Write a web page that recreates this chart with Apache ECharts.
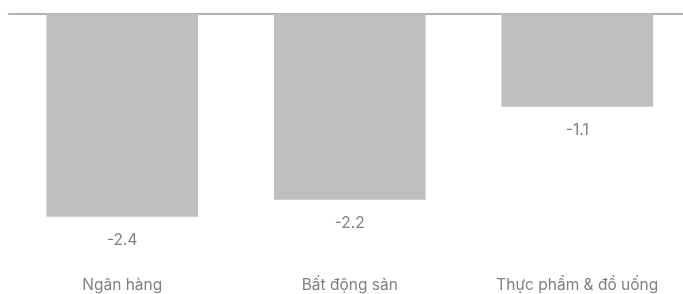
<!DOCTYPE html>
<html>
<head>
<meta charset="utf-8">
<script src="https://cdn.jsdelivr.net/npm/echarts@6/dist/echarts.min.js"></script>
<style>
  html, body { margin: 0; padding: 0; background: #fff; }
  #chart { width: 683px; height: 294px; }
</style>
</head>
<body>
<div id="chart"></div>
<script>
	// du lieu doc tu hinh
	var categories = ['Ngân hàng', 'Bất động sản', 'Thực phẩm & đồ uống'];
	var values = [-2.4, -2.2, -1.1];

	var chart = echarts.init(document.getElementById('chart'));

	var option = {
		animation: false,
		grid: {
			left: 8.5,
			width: 682.5,
			top: 13.5,
			height: 254,
			outerBoundsMode: 'none',
			containLabel: false
		},
		xAxis: [
			{
				type: 'category',
				data: categories,
				position: 'bottom',
				axisLine: { show: false },
				axisTick: { show: false },
				axisLabel: {
					color: '#808080',
					fontSize: 15.5,
					fontFamily: 'Inter, Roboto, sans-serif',
					margin: 10
				}
			},
			{
				type: 'category',
				data: categories,
				position: 'top',
				axisLine: { show: true, lineStyle: { color: '#999', width: 1.5 } },
				axisTick: { show: false },
				axisLabel: { show: false }
			}
		],
		yAxis: {
			type: 'value',
			min: -3,
			max: 0,
			show: false,
			splitLine: { show: false }
		},
		series: [
			{
				type: 'bar',
				data: values,
				barWidth: '66.7%',
				itemStyle: { color: '#bfbfbf' },
				label: {
					show: true,
					position: 'outside',
					distance: 16,
					color: '#808080',
					fontSize: 15.5,
					fontFamily: 'Inter, Roboto, sans-serif'
				}
			}
		]
	};

	chart.setOption(option);
</script>
</body>
</html>
